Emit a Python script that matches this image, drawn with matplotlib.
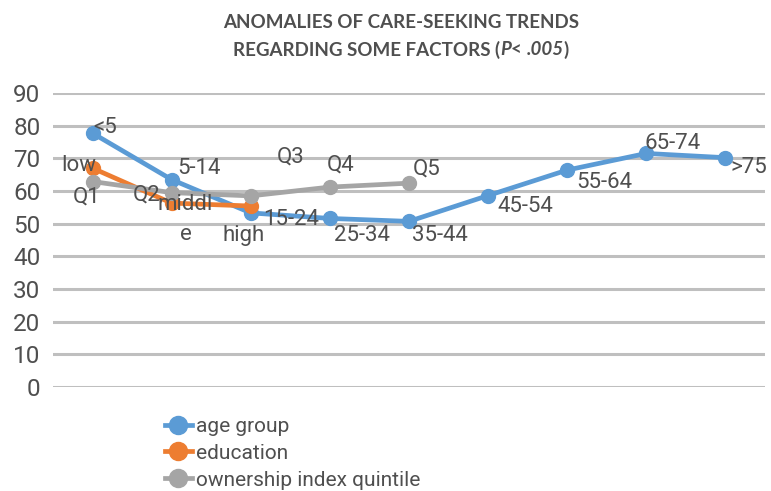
import matplotlib.pyplot as plt

plt.rcParams['font.family'] = ['Roboto', 'DejaVu Sans']

# data
age_labels = ['<5', '5-14', '15-24', '25-34', '35-44', '45-54', '55-64', '65-74', '>75']
age_values = [77.7, 63.5, 53.3, 51.6, 50.7, 58.6, 66.4, 71.5, 70.2]

edu_labels = ['low', 'middl\ne', 'high']
edu_values = [67.0, 56.3, 55.4]

own_labels = ['Q1', 'Q2', 'Q3', 'Q4', 'Q5']
own_values = [62.9, 59.5, 58.5, 61.2, 62.4]

blue = '#5B9BD5'
orange = '#ED7D31'
grey = '#A5A5A5'
txt = '#4F4F4F'

fig = plt.figure(figsize=(7.71, 4.91), dpi=100)
ax = fig.add_axes([0.0687, 0.2118, 0.9233, 0.5988])

ax.plot(range(len(age_values)), age_values, color=blue, lw=3.4, marker='o', ms=10,
        label='age group', zorder=3)
ax.plot(range(len(edu_values)), edu_values, color=orange, lw=3.4, marker='o', ms=10,
        label='education', zorder=4)
ax.plot(range(len(own_values)), own_values, color=grey, lw=3.4, marker='o', ms=10,
        label='ownership index quintile', zorder=5)

# data labels (offsets in points, roughly as placed in the original)
fs = 16
age_off = [(9, 4), (20, 8), (29, -5), (23, -12), (22, -10), (27, -8), (27, -9), (19, 7), (4, -7)]
for i, (lab, v) in enumerate(zip(age_labels, age_values)):
    ha = 'left' if i == len(age_labels) - 1 else 'center'
    ax.annotate(lab, (i, v), xytext=age_off[i], textcoords='offset points',
                ha=ha, va='center', fontsize=fs, color=txt, zorder=6)

edu_off = [(-10, 2), (10, -12), (-5, -21)]
for i, (lab, v) in enumerate(zip(edu_labels, edu_values)):
    ax.annotate(lab, (i, v), xytext=edu_off[i], textcoords='offset points',
                ha='center', va='center', fontsize=fs, color=txt, zorder=6,
                linespacing=1.55, multialignment='center')

own_off = [(-4, -11.5), (-18, -2), (29, 28), (8, 16), (13, 10)]
for i, (lab, v) in enumerate(zip(own_labels, own_values)):
    ax.annotate(lab, (i, v), xytext=own_off[i], textcoords='offset points',
                ha='center', va='center', fontsize=fs, color=txt, zorder=6)

ax.set_xlim(-0.5, 8.5)
ax.set_ylim(0, 90)
ax.set_yticks(range(0, 91, 10))
ax.set_xticks([])
ax.tick_params(axis='y', length=0, pad=9, labelsize=17.5, labelcolor=txt)
ax.grid(axis='y', color='#BFBFBF', lw=2.2)
ax.set_axisbelow(True)
for s in ax.spines.values():
    s.set_visible(False)

# title, second line mixes bold and bold italic
title_fs = 13.5
tfam = ['Lato', 'DejaVu Sans']
fig.text(0.52, 0.955, 'ANOMALIES OF CARE-SEEKING TRENDS', ha='center', va='center',
         fontsize=title_fs, fontweight='bold', color=txt, family=tfam)
parts = [('REGARDING SOME FACTORS (', 'normal'), ('P', 'italic'), ('< ', 'normal'),
         ('.005', 'italic'), (')', 'normal')]
renderer = fig.canvas.get_renderer()
pieces = []
for s, st in parts:
    t = fig.text(0, 0.899, s, ha='left', va='center', fontsize=title_fs,
                 fontweight='bold', fontstyle=st, color=txt, family=tfam)
    pieces.append(t)
widths = [t.get_window_extent(renderer).width / fig.bbox.width for t in pieces]
x0 = 0.52 - sum(widths) / 2
for t, w in zip(pieces, widths):
    t.set_x(x0)
    x0 += w

fig.legend(loc='upper left', bbox_to_anchor=(0.203, 0.168), frameon=False,
           fontsize=15, labelcolor=txt, handlelength=1.3, handletextpad=0.2,
           labelspacing=0.38, borderaxespad=0, markerscale=1.3)

fig.savefig('out.png', dpi=100)
